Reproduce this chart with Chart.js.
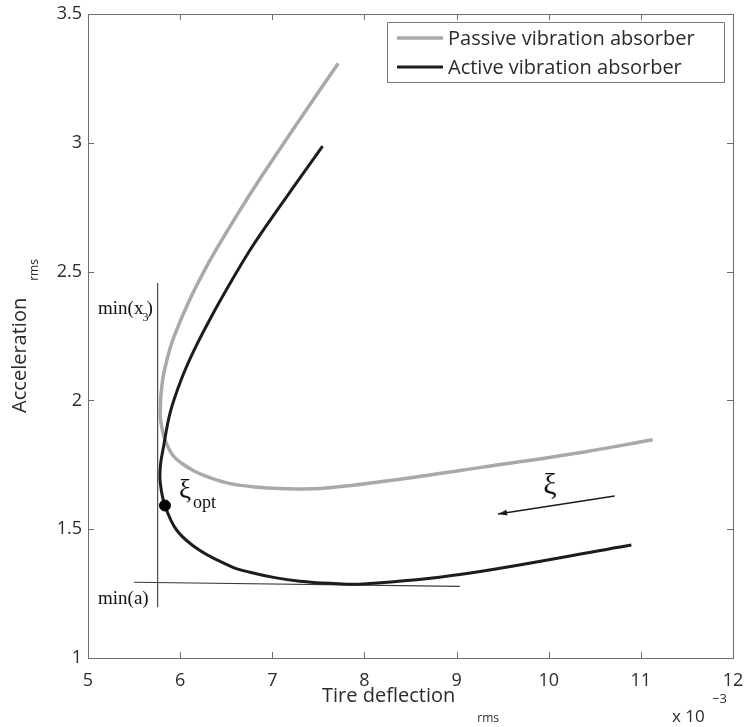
<!DOCTYPE html>
<html>
<head>
<meta charset="utf-8">
<style>
  html, body { margin: 0; padding: 0; background: #ffffff; }
  #wrap { width: 745px; height: 727px; }
</style>
<script src="https://cdn.jsdelivr.net/npm/chart.js@4.4.1/dist/chart.umd.min.js"></script>
</head>
<body>
<div id="wrap"><canvas id="chart" width="745" height="727"></canvas></div>
<script>
// Axis ticks and their labels
const xTicks = [5, 6, 7, 8, 9, 10, 11, 12];
const xTickLabels = ['5', '6', '7', '8', '9', '10', '11', '12'];
const yTicks = [1, 1.5, 2, 2.5, 3, 3.5];
const yTickLabels = ['1', '1.5', '2', '2.5', '3', '3.5'];

// Passive vibration absorber: rms tire deflection (x 10^-3) vs rms acceleration
const passiveX = [7.715, 7.404, 7.146, 6.877, 6.628, 6.387, 6.247, 6.100, 5.960, 5.884, 5.809, 5.783, 5.808, 5.851, 5.922, 6.020, 6.161, 6.345, 6.540, 6.811, 7.082, 7.516, 8.275, 9.284, 10.369, 11.128];
const passiveY = [3.308, 3.146, 3.010, 2.866, 2.726, 2.583, 2.493, 2.388, 2.272, 2.194, 2.078, 1.949, 1.883, 1.833, 1.786, 1.755, 1.724, 1.697, 1.677, 1.664, 1.658, 1.658, 1.689, 1.741, 1.799, 1.847];

// Active vibration absorber
const activeX = [7.546, 7.268, 6.991, 6.757, 6.530, 6.334, 6.150, 6.009, 5.889, 5.818, 5.786, 5.784, 5.835, 5.965, 6.215, 6.573, 6.757, 7.028, 7.299, 7.625, 7.983, 9.035, 10.897];
const activeY = [2.987, 2.847, 2.707, 2.583, 2.447, 2.322, 2.194, 2.078, 1.949, 1.817, 1.747, 1.681, 1.592, 1.495, 1.417, 1.352, 1.333, 1.312, 1.298, 1.290, 1.287, 1.324, 1.439];

// Optimal damping point on the active curve
const optX = [5.835];
const optY = [1.592];

// Guide lines: minimum tire deflection and minimum acceleration
const minDeflX = [5.756, 5.756];
const minDeflY = [2.456, 1.197];
const minAccX = [5.50, 9.035];
const minAccY = [1.294, 1.278];

// Direction of increasing damping ratio
const arrowX = [10.716, 9.450];
const arrowY = [1.629, 1.559];

const seriesNames = ['Passive vibration absorber', 'Active vibration absorber'];

const SANS = '"Open Sans", "DejaVu Sans", sans-serif';
const SERIF = '"Liberation Serif", "Times New Roman", serif';
const GRAY = '#a9a9a9';
const DARK = '#1c1c1c';
const TEXT = '#2b2b2b';
const FRAME = '#6e6e6e';

function pts(xs, ys) { return xs.map((x, i) => ({ x: x, y: ys[i] })); }

// Box, inward ticks, axis titles, legend and annotations
const decorations = {
  id: 'decorations',
  beforeDatasetsDraw(chart) {
    const { ctx, chartArea: a, scales } = chart;
    ctx.save();
    ctx.strokeStyle = FRAME;
    ctx.lineWidth = 1;
    ctx.strokeRect(Math.round(a.left) + 0.5, Math.round(a.top) + 0.5,
                   Math.round(a.right - a.left), Math.round(a.bottom - a.top));
    const tl = 6;
    ctx.beginPath();
    scales.x.ticks.forEach(t => {
      const px = Math.round(scales.x.getPixelForValue(t.value)) + 0.5;
      ctx.moveTo(px, a.bottom); ctx.lineTo(px, a.bottom - tl);
      ctx.moveTo(px, a.top); ctx.lineTo(px, a.top + tl);
    });
    scales.y.ticks.forEach(t => {
      const py = Math.round(scales.y.getPixelForValue(t.value)) + 0.5;
      ctx.moveTo(a.left, py); ctx.lineTo(a.left + tl, py);
      ctx.moveTo(a.right, py); ctx.lineTo(a.right - tl, py);
    });
    ctx.stroke();
    ctx.restore();
  },
  afterDatasetsDraw(chart) {
    const { ctx, chartArea: a, scales } = chart;
    const X = v => scales.x.getPixelForValue(v);
    const Y = v => scales.y.getPixelForValue(v);
    ctx.save();

    // arrow head at the end of the damping arrow
    const x0 = X(arrowX[0]), y0 = Y(arrowY[0]), x1 = X(arrowX[1]), y1 = Y(arrowY[1]);
    const ang = Math.atan2(y1 - y0, x1 - x0);
    const hl = 9, hw = 3;
    ctx.fillStyle = DARK;
    ctx.beginPath();
    ctx.moveTo(x1, y1);
    ctx.lineTo(x1 - hl * Math.cos(ang) - hw * Math.sin(ang), y1 - hl * Math.sin(ang) + hw * Math.cos(ang));
    ctx.lineTo(x1 - hl * Math.cos(ang) + hw * Math.sin(ang), y1 - hl * Math.sin(ang) - hw * Math.cos(ang));
    ctx.closePath();
    ctx.fill();

    // xi label over the arrow
    ctx.fillStyle = '#111';
    ctx.textBaseline = 'alphabetic';
    ctx.textAlign = 'left';
    ctx.font = '30px ' + SERIF;
    ctx.fillText('\u03BE', (x0 + x1) / 2 - 13, (y0 + y1) / 2 - 11);

    // xi_opt next to the optimum point
    const ox = X(optX[0]), oy = Y(optY[0]);
    ctx.font = '27px ' + SERIF;
    ctx.fillText('\u03BE', ox + 14, oy - 8);
    ctx.font = '18px ' + SERIF;
    ctx.fillText('opt', ox + 28, oy + 2);

    // min(x3) label near the top of the vertical guide
    ctx.font = '19px ' + SERIF;
    const lx = a.left + 10;
    const by = Y(minDeflY[0]) + 31;
    ctx.fillText('min(x', lx, by);
    const w = ctx.measureText('min(x').width;
    ctx.font = '12px ' + SERIF;
    ctx.fillText('3', lx + w - 1, by + 7);
    const w3 = ctx.measureText('3').width;
    ctx.font = '19px ' + SERIF;
    ctx.fillText(')', lx + w + w3 - 3, by);

    // min(a) label below the horizontal guide
    ctx.fillText('min(a)', lx, Y(minAccY[0]) + 22);

    // x axis title with subscript
    ctx.fillStyle = TEXT;
    ctx.font = '20px ' + SANS;
    const t1 = 'Tire deflection';
    const w1 = ctx.measureText(t1).width;
    ctx.font = '12px ' + SANS;
    const w2 = ctx.measureText('rms').width;
    const gap = 22;
    const cx = (a.left + a.right) / 2;
    const sx = cx - (w1 + gap + w2) / 2;
    ctx.font = '20px ' + SANS;
    ctx.fillText(t1, sx, a.bottom + 44);
    ctx.font = '12px ' + SANS;
    ctx.fillText('rms', sx + w1 + gap, a.bottom + 64);

    // exponent note
    ctx.font = '17px ' + SANS;
    ctx.fillText('x 10', a.right - 61, a.bottom + 64);
    ctx.font = '13px ' + SANS;
    ctx.fillText('\u22123', a.right - 21, a.bottom + 45);

    // y axis title with subscript (rotated)
    ctx.save();
    ctx.font = '20px ' + SANS;
    const ty = 'Acceleration';
    const wy = ctx.measureText(ty).width;
    ctx.font = '12px ' + SANS;
    const wy2 = ctx.measureText('rms').width;
    const gy = 17;
    const cy = (a.top + a.bottom) / 2;
    const startY = cy + (wy + gy + wy2) / 2;
    ctx.translate(26, startY);
    ctx.rotate(-Math.PI / 2);
    ctx.font = '20px ' + SANS;
    ctx.fillText(ty, 0, 0);
    ctx.font = '12px ' + SANS;
    ctx.fillText('rms', wy + gy, 12);
    ctx.restore();

    // legend box in the upper right corner
    const bw = 337, bh = 60;
    const bx = a.right - 9 - bw, bt = a.top + 8;
    ctx.fillStyle = '#ffffff';
    ctx.fillRect(bx, bt, bw, bh);
    ctx.strokeStyle = '#7a7a7a';
    ctx.lineWidth = 1;
    ctx.strokeRect(bx + 0.5, bt + 0.5, bw, bh);
    const rows = [
      { name: seriesNames[0], color: GRAY, width: 3.5, y: bt + 16 },
      { name: seriesNames[1], color: DARK, width: 3, y: bt + 45 }
    ];
    ctx.font = '20px ' + SANS;
    ctx.textBaseline = 'middle';
    rows.forEach(r => {
      ctx.strokeStyle = r.color;
      ctx.lineWidth = r.width;
      ctx.beginPath();
      ctx.moveTo(bx + 10, r.y);
      ctx.lineTo(bx + 56, r.y);
      ctx.stroke();
      ctx.fillStyle = TEXT;
      ctx.fillText(r.name, bx + 61, r.y + 1);
    });
    ctx.restore();
  }
};

const lineDefaults = { showLine: true, pointRadius: 0, pointHoverRadius: 0, fill: false };

const chart = new Chart(document.getElementById('chart'), {
  type: 'scatter',
  data: {
    datasets: [
      Object.assign({}, lineDefaults, {
        label: seriesNames[1], data: pts(activeX, activeY),
        borderColor: DARK, borderWidth: 3, tension: 0.35, order: 1
      }),
      Object.assign({}, lineDefaults, {
        label: seriesNames[0], data: pts(passiveX, passiveY),
        borderColor: GRAY, borderWidth: 3.5, tension: 0.35, order: 2
      }),
      Object.assign({}, lineDefaults, {
        label: 'min deflection', data: pts(minDeflX, minDeflY),
        borderColor: '#3a3a3a', borderWidth: 1.1, order: 3
      }),
      Object.assign({}, lineDefaults, {
        label: 'min acceleration', data: pts(minAccX, minAccY),
        borderColor: '#3a3a3a', borderWidth: 1.1, order: 3
      }),
      Object.assign({}, lineDefaults, {
        label: 'damping direction', data: pts(arrowX, arrowY),
        borderColor: DARK, borderWidth: 1.4, order: 3
      }),
      {
        label: 'optimum', data: pts(optX, optY), showLine: false,
        pointRadius: 5.5, pointBackgroundColor: '#000', pointBorderColor: '#000',
        pointBorderWidth: 1, order: 0
      }
    ]
  },
  options: {
    responsive: false,
    animation: false,
    events: [],
    layout: { padding: { left: 0, right: 12, top: 14, bottom: 0 } },
    plugins: { legend: { display: false }, tooltip: { enabled: false } },
    scales: {
      x: {
        type: 'linear', min: 5, max: 12,
        afterBuildTicks: s => { s.ticks = xTicks.map(v => ({ value: v })); },
        afterFit: s => { s.height = 69; s.paddingLeft = 0; s.paddingRight = 0; },
        grid: { display: false, drawTicks: false },
        border: { display: false },
        ticks: {
          color: TEXT, font: { family: SANS, size: 18 }, padding: 12, maxRotation: 0, autoSkip: false,
          callback: (v, i) => xTickLabels[i]
        }
      },
      y: {
        type: 'linear', min: 1, max: 3.5,
        afterBuildTicks: s => { s.ticks = yTicks.map(v => ({ value: v })); },
        afterFit: s => { s.width = 88; s.paddingTop = 0; s.paddingBottom = 0; },
        grid: { display: false, drawTicks: false },
        border: { display: false },
        ticks: {
          color: TEXT, font: { family: SANS, size: 18 }, padding: 6, autoSkip: false,
          callback: (v, i) => yTickLabels[i]
        }
      }
    }
  },
  plugins: [decorations]
});

// settle the plot box at its intended place on the canvas
const box = { left: 88, top: 14, right: 733, bottom: 658 };
for (let k = 0; k < 4; k++) {
  const a = chart.chartArea;
  const p = Object.assign({}, chart.config.options.layout.padding);
  p.left += box.left - a.left;
  p.top += box.top - a.top;
  p.right += a.right - box.right;
  p.bottom += a.bottom - box.bottom;
  chart.config.options.layout.padding = p;
  chart.update();
}
</script>
</body>
</html>
